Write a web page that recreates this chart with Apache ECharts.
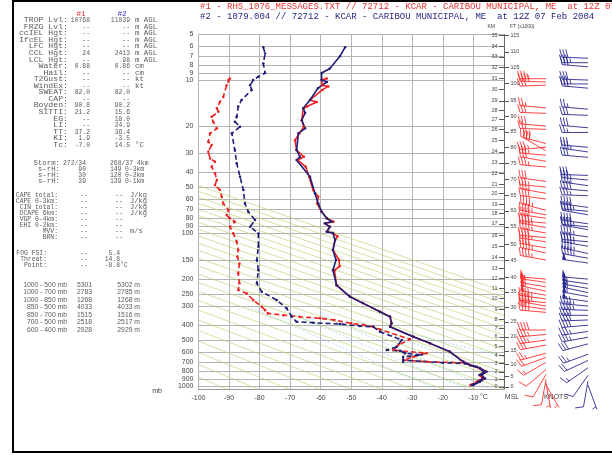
<!DOCTYPE html>
<html><head><meta charset="utf-8">
<script src="https://cdn.jsdelivr.net/npm/echarts@6/dist/echarts.min.js"></script>
<style>html,body{margin:0;padding:0;background:#fff}#c{width:612px;height:455px}</style>
</head><body><div id="c"></div>
<script>
// ---------------- DATA ----------------
const tempTicks = [-100,-90,-80,-70,-60,-50,-40,-30,-20,-10];
const pressureLevels = [5,6,7,8,9,10,20,30,40,50,60,70,80,90,100,150,200,250,300,400,500,600,700,800,900,1000];

// Sounding #1 (red) temperature
const s1TempP = [9.75,10.0,10.8,11.0,11.6,13.5,13.9,14.9,15.3,18.3,20.2,22.3,24.7,28.7,31.7,33.3,36.9,42.9,52.4,57.9,64.0,72.6,80.1,84.3,86.4,91.0,98.1,100,105,111,129,150,165,175,219,261,287,327,352,389,410,476,526,597,694,730,763,806,848,891,938,985];
const s1TempT = [-58.0,-59.7,-59.5,-57.5,-59.5,-63.5,-61.3,-64.5,-65.7,-66.2,-65.5,-67.0,-68.4,-67.9,-65.5,-67.5,-64.9,-63.8,-62.5,-60.8,-61.2,-59.7,-58.0,-55.8,-58.6,-57.0,-58.0,-56.0,-54.5,-55.3,-56.0,-54.0,-53.8,-55.5,-54.8,-50.4,-46.2,-40.6,-37.3,-36.8,-37.3,-29.7,-24.2,-17.7,-13.3,-11.1,-7.9,-5.9,-7.5,-6.5,-8.5,-10.5];
// Sounding #1 (red) dewpoint
const s1DewP = [9.75,10.0,10.8,12.9,13.9,15.3,16.1,17.4,18.7,20.7,22.3,25.3,26.6,29.4,32.5,34.2,36.9,40.7,45.0,48.6,52.4,57.9,64.0,70.7,76.3,80.1,84.3,91.0,100.5,114,129,143,158,183,213,236,248,274,303,319,335,344,352,361,370,389,399,410,427,495,540,582,611,644,676,694,704,766,806,848,891,938,985];
const s1DewT = [-89.7,-90.2,-90.8,-91.9,-93.0,-94.0,-93.5,-95.7,-95.2,-94.0,-96.2,-96.8,-95.7,-96.8,-96.2,-94.6,-95.7,-94.6,-94.0,-94.6,-93.0,-92.4,-91.9,-90.2,-90.8,-89.7,-88.1,-89.7,-88.6,-87.5,-87.0,-87.3,-86.6,-87.0,-86.6,-87.0,-84.2,-82.1,-79.3,-78.2,-77.2,-72.2,-66.8,-60.2,-55.5,-50.0,-46.0,-42.8,-40.6,-30.8,-34.6,-36.2,-25.3,-29.7,-33.0,-25.3,-12.8,-7.9,-6.5,-8.0,-7.0,-9.0,-11.0];

// Sounding #2 (blue) temperature
const s2TempP = [6.1,7.0,8.4,9.0,10.0,10.3,11.3,13.5,15.3,16.4,18.3,20.7,22.3,28.7,31.7,33.3,42.9,55.0,64.0,72.6,80.1,84.3,86.4,91.0,98.1,100,111,129,150,175,219,261,287,327,352,389,410,476,526,597,694,730,763,806,848,891,938,985];
const s2TempT = [-52.0,-53.7,-57.0,-59.7,-59.7,-58.0,-60.9,-63.5,-65.7,-65.1,-66.2,-65.1,-67.3,-67.9,-66.8,-67.9,-63.5,-61.9,-60.8,-59.7,-58.0,-56.4,-58.6,-57.0,-58.0,-56.0,-55.3,-56.0,-55.0,-56.0,-54.8,-50.4,-46.2,-40.6,-37.3,-36.8,-37.3,-29.7,-24.2,-17.7,-13.3,-11.1,-7.9,-5.7,-7.3,-6.2,-7.9,-10.0];
// Sounding #2 (blue) dewpoint
const s2DewP = [6.1,6.7,7.8,9.0,9.5,10.0,10.8,11.6,13.5,14.9,17.4,18.7,20.2,22.3,28.7,35.0,42.9,52.4,64.0,72.6,82.2,91.0,100.5,123,150,175,213,242,274,311,352,380,386,393,405,410,442,500,554,582,588,611,625,644,676,694,704,711,748,806,848,891,938,985];
const s2DewT = [-78.8,-78.2,-78.8,-78.2,-80.4,-82.1,-83.1,-82.6,-85.9,-87.0,-87.5,-88.1,-86.4,-89.1,-88.1,-87.5,-86.4,-85.3,-84.8,-83.7,-81.5,-83.1,-80.4,-80.4,-80.9,-80.4,-80.9,-79.3,-74.4,-71.1,-69.5,-67.9,-62.4,-53.7,-47.2,-42.8,-40.6,-33.5,-35.1,-38.4,-34.0,-32.4,-27.0,-33.0,-33.0,-33.0,-20.0,-12.8,-8.9,-6.5,-8.0,-7.0,-8.5,-10.5];

// Winds #1 (red): pressure, direction (deg), speed (kt)
const wind1P = [9.8,10.3,10.8,15.2,16.5,20,21,26,27.5,29,31,34,37,46,50,55,60,71,76,80,86,92,100,107,114,125,135,150,200,210,225,240,255,270,285,300,315,330,430,460,500,540,610,650,700,780,840,900,950,985];
const wind1D = [270,272,268,275,272,275,272,285,265,300,275,280,275,278,275,280,278,285,280,278,275,280,280,275,278,280,282,280,275,278,280,282,280,278,275,280,278,275,270,265,262,260,255,250,240,230,210,190,170,150];
const wind1S = [35,40,30,25,30,30,25,40,35,30,35,30,35,30,35,35,40,45,45,40,45,45,45,40,45,40,45,45,50,55,60,55,50,45,45,40,40,35,40,35,35,30,25,20,15,10,10,8,5,5];
// Winds #2 (blue)
const wind2P = [7.2,7.7,8.2,10,10.6,11.3,15.5,17,20.5,22,27.5,29.5,32,42,45,49,53,57,68,72,76,87,91,95,106,114,122,136,146,157,200,215,230,245,260,280,300,320,345,370,400,440,480,530,620,680,760,850,930,985];
const wind2D = [272,270,275,272,270,275,275,272,275,270,275,278,275,272,275,278,275,272,278,275,280,278,275,280,278,275,280,282,280,278,275,278,280,282,280,278,275,272,270,268,265,262,260,255,250,245,235,215,190,160];
const wind2S = [30,35,30,30,35,30,25,30,30,25,30,35,30,30,35,35,40,35,40,45,40,40,45,40,45,45,45,45,45,50,50,55,55,60,55,50,45,45,40,40,40,35,35,30,25,20,15,10,8,5];

// Height scale ticks (pressure at which each tick sits)
const kmLabels = [0,1,2,3,4,5,6,7,8,9,10,11,12,13,14,15,16,17,18,19,20,21,22,23,24,25,26,27,28,29,30,31,32,33,34,35];
const kmTickP = [1011,904,806,711,627,548,476,420,366,315,267,230,198,170,144,122,103,87,74.3,64.7,55.0,47.8,40.7,34.7,29.4,24.7,21.0,18.1,15.7,13.7,11.5,9.75,8.26,7.04,6.0,5.08];
const ftLabels = [0,5,10,15,20,25,30,35,40,45,50,55,60,65,70,75,80,85,90,95,100,105,110,115];
const ftTickP = [1011,860,718,588,476,380,306,242,195,150,118,91.0,71.5,56.4,44.6,35.0,27.5,21.8,17.2,13.65,10.5,8.26,6.53,5.08];

// Dry adiabats: pressure where each meets -100 °C, and the other end [T, p]
const adiabatLeftP = [873,723,604,509,433,370,319,276,241,211,186,164.5,146,130,116.6,104.7,94.3,85.2,77.2,70.1,63.9,58.3,53.4,48.9];
const adiabatEndT = [-90.6,-80.5,-70.3,-60.2,-50.1,-39.9,-29.8,-19.6,-9.5,0,0,0,0,0,0,0,0,0,0,0,0,0,0,0];
const adiabatEndP = [1050,1050,1050,1050,1050,1050,1050,1050,1050,1041,917,811,720,642,575,516,465,420,380,346,315,288,263,241];
// Faint saturated adiabats (dotted, light blue): start [T, p] and end [T, p]
const moistStartT = [-84,-72,-60,-48,-36];
const moistStartP = [300,320,345,380,430];
const moistEndT = [-22,-12,-4,0,0];
const moistEndP = [1050,1050,1050,880,640];

// Header text
const header1 = '#1 - RHS_1076_MESSAGES.TXT // 72712 - KCAR - CARIBOU MUNICIPAL, ME  at 12Z 07 Feb 2004';
const header2 = '#2 - 1079.004 // 72712 - KCAR - CARIBOU MUNICIPAL, ME  at 12Z 07 Feb 2004';

// Left panel text rows: label, #1, #2, unit
const blockA = [
  ['TROP Lvl:','10768','11039','m AGL'],
  ['FRZG Lvl:','--','--','m AGL'],
  ['ccIEL Hgt:','--','--','m AGL'],
  ['IfcEL Hgt:','--','--','m AGL'],
  ['LFC Hgt:','--','--','m AGL'],
  ['CCL Hgt:','24','2413','m AGL'],
  ['LCL Hgt:','--','98','m AGL'],
  ['Water:','0.88','0.86','cm'],
  ['Hail:','--','--','cm'],
  ['T2Gust:','--','--','kt'],
  ['WindEx:','--','--','kt'],
  ['SWEAT:','82.0','82.0',''],
  ['CAP:','--','--',''],
  ['Boyden:','90.8','90.2',''],
  ['SITTI:','21.2','15.6',''],
  ['EG:','--','18.0',''],
  ['LI:','--','24.9',''],
  ['TT:','37.2','36.4',''],
  ['KI:','1.9','-3.5',''],
  ['Tc:','-7.0','14.5','°C']
];
const blockB = [
  ['Storm:','272/34','268/37','4km'],
  ['s-rH:','90','149','0-3km'],
  ['s-rH:','30','120','0-2km'],
  ['s-rH:','39','139','0-1km']
];
const blockC = [
  ['CAPE total:','--','--','J/kg'],
  ['CAPE 0-3km:','--','--','J/kg'],
  ['CIN total:','--','--','J/kg'],
  ['DCAPE 6km:','--','--','J/kg'],
  ['VGP 0-4km:','--','--',''],
  ['EHI 0-2km:','--','--',''],
  ['MVV:','--','--','m/s'],
  ['BRN:','--','--','']
];
const blockD = [
  ['FOG FSI:','--','5.4',''],
  ['Threat:','--','14.8',''],
  ['Point:','--','-8.8','°C']
];
const thickRows = [
  ['1000 - 500 mb','5301','5302 m'],
  ['1000 - 700 mb','2783','2785 m'],
  ['1000 - 850 mb','1268','1268 m'],
  ['850 - 500 mb','4033','4033 m'],
  ['850 - 700 mb','1515','1516 m'],
  ['700 - 500 mb','2518','2517 m'],
  ['600 - 400 mb','2928','2929 m']
];

// ---------------- CHART ----------------
const RED = '#f02020', NAVY = '#1e1e78';
const zip = (a, b) => a.map((v, i) => [b[i], v]);
const chart = echarts.init(document.getElementById('c'), null, {renderer: 'canvas'});

const mono = '"Liberation Mono", "DejaVu Sans Mono", monospace';
const sans = '"Liberation Sans", Arial, sans-serif';
const graphics = [];
function txt(t, x, y, align, color, size, fam, sx) {
  graphics.push({type: 'text', silent: true, x: x, y: y, scaleX: sx || 1,
    style: {text: t, x: 0, y: 0, align: align, verticalAlign: 'middle', fill: color || '#5a5a5a', fontSize: size || 6.4, fontFamily: fam || mono}});
}
// frame
graphics.push({type: 'rect', silent: true, shape: {x: 13, y: 1, width: 640, height: 451}, style: {fill: 'none', stroke: '#000', lineWidth: 2}});
// headers
txt(header1, 200, 7, 'left', '#e83030', 9.0, mono);
txt(header2, 200, 16.5, 'left', '#28287e', 9.0, mono);
txt('#1', 81, 14, 'center', '#e83030', 6.4, mono, 1.2);
txt('#2', 122, 14, 'center', '#3030c0', 6.4, mono, 1.2);
blockA.forEach((r, i) => {
  const y = 20.6 + 6.55 * i;
  txt(r[0], 68, y, 'right', null, null, null, 1.28);
  txt(r[1], 90, y, 'right');
  txt(r[2], 130, y, 'right');
  txt(r[3], 135, y, 'left', null, null, null, 1.15);
});
blockB.forEach((r, i) => {
  const y = 163 + 6 * i;
  txt(r[0], 60, y, 'right', null, null, null, 1.15);
  txt(r[1], 86, y, 'right');
  txt(r[2], 110, y, 'left');
  txt(r[3], i === 0 ? 137 : 125, y, 'left');
});
blockC.forEach((r, i) => {
  const y = 195 + 6 * i;
  txt(r[0], 58, y, 'right');
  txt(r[1], 88, y, 'right');
  txt(r[2], 123, y, 'right');
  txt(r[3], 130, y, 'left', null, null, null, 1.1);
});
blockD.forEach((r, i) => {
  const y = 253 + 6 * i;
  txt(r[0], 47, y, 'right');
  txt(r[1], 88, y, 'right');
  txt(r[2], 120, y, 'right');
  txt(r[3], 120, y, 'left');
});
thickRows.forEach((r, i) => {
  const y = 285 + 7.5 * i;
  txt(r[0], 67, y, 'right', '#5a5a5a', 6.8, sans);
  txt(r[1], 92, y, 'right', '#5a5a5a', 6.8, sans);
  txt(r[2], 140, y, 'right', '#5a5a5a', 6.8, sans);
});
// axis words
txt('mb', 157, 391, 'center', '#444', 7, sans);
txt('°C', 484, 397.5, 'center', '#444', 7, sans);
txt('MSL', 512, 397.5, 'center', '#444', 7, sans);
txt('KNOTS', 556, 397.5, 'center', '#444', 7, sans);
txt('KM', 495, 27, 'right', '#444', 5, sans);
txt('FT (x1000)', 510, 27, 'left', '#444', 5, sans);

function pressureItem(params, api) {
  const p = api.value(1);
  const a = api.coord([-100, p]), b = api.coord([0, p]);
  const y = Math.round(a[1]) + 0.5;
  return {type: 'group', children: [
    {type: 'line', shape: {x1: a[0], y1: y, x2: b[0], y2: y}, style: {stroke: '#b4b4b4', lineWidth: 1}},
    {type: 'text', style: {text: String(p), x: a[0] - 5, y: a[1], align: 'right', verticalAlign: 'middle', fontSize: 7, fontFamily: sans, fill: '#444'}}
  ]};
}
function segItem(stroke, dash) {
  return function (params, api) {
    const a = api.coord([api.value(0), api.value(1)]), b = api.coord([api.value(2), api.value(3)]);
    return {type: 'line', shape: {x1: a[0], y1: a[1], x2: b[0], y2: b[1]}, style: {stroke: stroke, lineWidth: 1, lineDash: dash || null}};
  };
}
function heightTickItem(side) {
  return function (params, api) {
    const c = api.coord([0, api.value(1)]);
    const y = Math.round(c[1]) + 0.5;
    const dx = side === 'left' ? -5 : 5;
    return {type: 'group', children: [
      {type: 'line', shape: {x1: c[0], y1: y, x2: c[0] + dx, y2: y}, style: {stroke: '#555', lineWidth: 1}},
      {type: 'text', style: {text: String(api.value(2)), x: c[0] + dx * 1.3, y: c[1], align: side === 'left' ? 'right' : 'left', verticalAlign: 'middle', fontSize: 5.5, fontFamily: sans, fill: '#444'}}
    ]};
  };
}
function barbItem(color) {
  return function (params, api) {
    const c = api.coord([api.value(0), api.value(1)]);
    const d = api.value(2) * Math.PI / 180, s = api.value(3);
    const ux = Math.sin(d), uy = -Math.cos(d), nx = -uy, ny = ux;
    const L = 26, F = 8;
    const tx = c[0] + ux * L, ty = c[1] + uy * L;
    const ch = [{type: 'line', shape: {x1: c[0], y1: c[1], x2: tx, y2: ty}, style: {stroke: color, lineWidth: 0.9}}];
    let rem = Math.round(s / 5) * 5, pos = 0;
    while (rem >= 50) {
      const ax = tx - ux * pos, ay = ty - uy * pos, bx = tx - ux * (pos + 4), by = ty - uy * (pos + 4);
      ch.push({type: 'polygon', shape: {points: [[ax, ay], [ax + nx * F, ay + ny * F], [bx, by]]}, style: {fill: color}});
      pos += 5; rem -= 50;
    }
    while (rem >= 10) {
      const ax = tx - ux * pos, ay = ty - uy * pos;
      ch.push({type: 'line', shape: {x1: ax, y1: ay, x2: ax + nx * F + ux * 2.5, y2: ay + ny * F + uy * 2.5}, style: {stroke: color, lineWidth: 0.9}});
      pos += 3; rem -= 10;
    }
    if (rem >= 5) {
      if (pos === 0) pos = 3;
      const ax = tx - ux * pos, ay = ty - uy * pos;
      ch.push({type: 'line', shape: {x1: ax, y1: ay, x2: ax + nx * F / 2 + ux * 1.2, y2: ay + ny * F / 2 + uy * 1.2}, style: {stroke: color, lineWidth: 0.9}});
    }
    return {type: 'group', children: ch};
  };
}

const profile = (name, P, T, color, dashed) => ({
  type: 'line', name: name, data: zip(P, T), xAxisIndex: 0, yAxisIndex: 0,
  symbol: 'circle', symbolSize: 2.5, showSymbol: true, clip: true,
  itemStyle: {color: color}, lineStyle: {color: color, width: 1.6, type: dashed ? [5, 3] : 'solid'},
  z: 5
});

const option = {
  animation: false,
  backgroundColor: '#fff',
  graphic: graphics,
  grid: [
    {left: 198.5, top: 34, width: 305.5, height: 355.3},
    {left: 525, top: 34, width: 84, height: 355.3}
  ],
  xAxis: [
    {type: 'value', gridIndex: 0, min: -100, max: 0, interval: 10,
      axisLine: {show: true, lineStyle: {color: '#999'}}, axisTick: {show: false},
      splitLine: {show: true, lineStyle: {color: '#b4b4b4', width: 1}},
      axisLabel: {formatter: v => (v === 0 ? '' : String(v)), fontSize: 7, color: '#444', margin: 5, fontFamily: sans}},
    {type: 'category', gridIndex: 1, data: ['#1', '#2'], show: false}
  ],
  yAxis: [
    {type: 'log', logBase: 10, gridIndex: 0, min: 5, max: 1050, inverse: true,
      axisLine: {show: false}, axisTick: {show: false}, axisLabel: {show: false}, splitLine: {show: false}},
    {type: 'log', logBase: 10, gridIndex: 1, min: 5, max: 1050, inverse: true, show: false}
  ],
  series: [
    {type: 'custom', name: 'pressure grid', xAxisIndex: 0, yAxisIndex: 0, silent: true, z: 1,
      data: pressureLevels.map(p => [-100, p]), renderItem: pressureItem,
      markLine: {silent: true, symbol: 'none', label: {show: false}, data: [{xAxis: 0}], lineStyle: {color: '#666', type: 'solid', width: 1}}},
    {type: 'custom', name: 'dry adiabats', xAxisIndex: 0, yAxisIndex: 0, silent: true, z: 2,
      data: adiabatLeftP.map((p, i) => [-100, p, adiabatEndT[i], adiabatEndP[i]]), renderItem: segItem('rgba(180,208,100,0.6)')},
    {type: 'custom', name: 'moist adiabats', xAxisIndex: 0, yAxisIndex: 0, silent: true, z: 2,
      data: moistStartT.map((t, i) => [t, moistStartP[i], moistEndT[i], moistEndP[i]]), renderItem: segItem('rgba(110,180,225,0.5)', [2, 2])},
    {type: 'custom', name: 'km', xAxisIndex: 0, yAxisIndex: 0, silent: true, z: 3,
      data: kmTickP.map((p, i) => [0, p, kmLabels[i]]), renderItem: heightTickItem('left')},
    {type: 'custom', name: 'ft', xAxisIndex: 0, yAxisIndex: 0, silent: true, z: 3,
      data: ftTickP.map((p, i) => [0, p, ftLabels[i]]), renderItem: heightTickItem('right')},
    profile('#1 T', s1TempP, s1TempT, RED, false),
    profile('#1 Td', s1DewP, s1DewT, RED, true),
    profile('#2 T', s2TempP, s2TempT, NAVY, false),
    profile('#2 Td', s2DewP, s2DewT, NAVY, true),
    {type: 'custom', name: 'wind #1', xAxisIndex: 1, yAxisIndex: 1, silent: true, clip: false, z: 4,
      data: wind1P.map((p, i) => [0, p, wind1D[i], wind1S[i]]), renderItem: barbItem('#ff3030')},
    {type: 'custom', name: 'wind #2', xAxisIndex: 1, yAxisIndex: 1, silent: true, clip: false, z: 4,
      data: wind2P.map((p, i) => [1, p, wind2D[i], wind2S[i]]), renderItem: barbItem('#2a2a90')}
  ]
};
chart.setOption(option);
</script></body></html>
